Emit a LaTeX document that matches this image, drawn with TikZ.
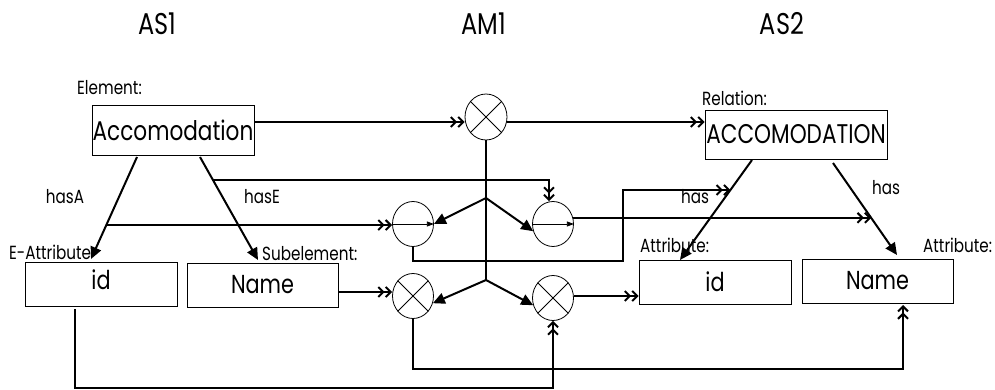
\documentclass[tikz,border=0pt]{standalone}
\usepackage{fontspec}
\setmainfont{Poppins}[FakeStretch=0.8]
\usetikzlibrary{arrows.meta,shapes.geometric,calc}
\begin{document}
\begin{tikzpicture}[x=1pt,y=-1pt,
  conn/.style={line width=2pt},
  dbl/.style={-{Straight Barb[length=5pt,width=10pt,line width=2pt]Straight Barb[length=5pt,width=10pt,line width=2pt]}},
  tri/.style={-{Triangle[length=12pt,width=11pt]}},
  box/.style={draw,line width=0.8pt,inner sep=0pt,font=\fontsize{26}{26}\selectfont},
  op/.style={draw,ellipse,line width=0.8pt,minimum width=41pt,minimum height=45pt,inner sep=0pt},
  lbl/.style={inner sep=0pt,font=\fontsize{19}{19}\selectfont},
  ttl/.style={inner sep=0pt,font=\fontsize{30}{30}\selectfont}]
\useasboundingbox (0,0) rectangle (995,390);

% titles
\node[ttl] (t1) at (157,24) {AS1};
\node[ttl] (t2) at (484,24) {AM1};
\node[ttl] (t3) at (782,24) {AS2};

% boxes
\node[box,minimum width=162pt,minimum height=50pt,font=\fontsize{27}{27}\selectfont] (acc) at (173,130) {Accomodation};
\node[box,minimum width=182pt,minimum height=49pt,font=\fontsize{27}{27}\selectfont] (ACC) at (796,134.5) {ACCOMODATION};
\node[box,minimum width=152pt,minimum height=44pt] (id1) at (101,284) {};
\node[inner sep=0pt,font=\fontsize{26}{26}\selectfont] (id1t) at (101,280) {id};
\node[box,minimum width=151pt,minimum height=44pt] (name1) at (262.5,285) {Name};
\node[box,minimum width=152pt,minimum height=44pt] (id2) at (715,282) {id};
\node[box,minimum width=151pt,minimum height=44pt] (name2) at (877.5,281) {Name};

% labels
\node[lbl,anchor=west] (lElem) at (77,88) {Element:};
\node[lbl,anchor=west] (lRel) at (702,98) {Relation:};
\node[lbl] (lhasA) at (65,197) {hasA};
\node[lbl] (lhasE) at (262,197) {hasE};
\node[lbl] (lhas1) at (695,197) {has};
\node[lbl] (lhas2) at (886,188) {has};
\node[lbl,anchor=west] (lEA) at (9,252) {E-Attribute};
\node[lbl,anchor=west] (lSub) at (262,254) {Subelement:};
\node[lbl,anchor=west] (lAt1) at (640,245) {Attribute:};
\node[lbl,anchor=west] (lAt2) at (923,245) {Attribute:};

% operators
\node[op,minimum width=42pt,minimum height=46pt] (m1) at (486,117) {};
\node[op] (ml) at (413,224) {};
\node[op] (mr) at (553,224) {};
\node[op] (m2) at (413,296) {};
\node[op] (m3) at (553,298) {};
\foreach \n in {m1,m2,m3}{
  \draw[line width=0.8pt] (\n.45) -- (\n.225) (\n.135) -- (\n.-45);
}
\foreach \n in {ml,mr}{
  \draw[line width=0.8pt,-{Triangle[length=7pt,width=5pt]}] (\n.west) -- (\n.east);
}

% coordinates
\coordinate (b1) at (486,198);
\coordinate (b2) at (486,280);
\coordinate (aA) at (137,157);
\coordinate (aAe) at (91,259);
\coordinate (aE) at (200,157);
\coordinate (aEe) at (258,260);
\coordinate (hL) at (752,160);
\coordinate (hLe) at (680,260);
\coordinate (hR) at (833,163);
\coordinate (hRe) at (897,255);
\coordinate (id1b) at (75,309);
\coordinate (n2b) at (903,305);

% top row
\draw[conn,dbl] (acc.east |- 0,122) -- (m1.west |- 0,122);
\draw[conn,dbl] (m1.east |- 0,122) -- (ACC.west |- 0,122);
\draw[conn] (m1.south) -- (b2);
\draw[conn,tri] (b1) -- (ml.east);
\draw[conn,tri] (b1) -- (mr.200);
\draw[conn,tri] (b2) -- (m2.-20);
\draw[conn,tri] (b2) -- (m3.200);

% has-links
\draw[conn,tri] (aA) -- coordinate[pos=0.667] (aAm) (aAe);
\draw[conn,tri] (aE) -- coordinate[pos=0.223] (aEm) (aEe);
\draw[conn,tri] (hL) -- coordinate[pos=0.30] (hLm) (hLe);
\draw[conn,tri] (hR) -- coordinate[pos=0.598] (hRm) (hRe);

\draw[conn,dbl] (aAm) -- (ml.west |- aAm);
\draw[conn,dbl] (aEm) -| ($(mr.north)+(-4,0)$);
\draw[conn,dbl] (ml.south) |- (623,261) |- (hLm);
\draw[conn,dbl] (mr.17) -- (mr.17 -| hRm);

% bottom row
\draw[conn,dbl] (name1.east |- 0,292) -- (m2.west |- 0,292);
\draw[conn,dbl] (m3.east |- 0,296) -- (id2.west |- 0,296);
\draw[conn,dbl] (id1b) |- (m3.south |- 0,388) -- (m3.south);
\draw[conn,dbl] (m2.south) |- (n2b |- 0,369) -- (n2b);
\end{tikzpicture}
\end{document}
